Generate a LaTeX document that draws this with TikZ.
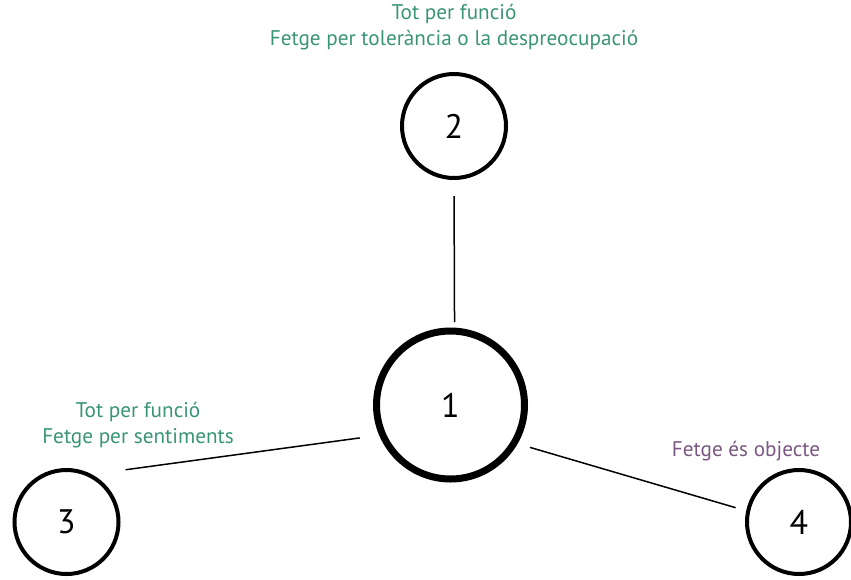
\documentclass[tikz,border=0pt]{standalone}
\usepackage{fontspec}
\setmainfont{PT Sans}
\definecolor{labelgreen}{RGB}{58,148,118}
\definecolor{labelpurple}{RGB}{122,88,130}

\begin{document}
\begin{tikzpicture}[x=0.5pt, y=-0.5pt,
  num/.style={circle, draw, line width=2pt, inner sep=0pt,
              minimum size=52pt, font=\fontsize{17}{19}\selectfont},
  numbig/.style={num, line width=3.5pt, minimum size=74pt},
  lbl/.style={align=center, inner sep=0pt,
              font=\fontsize{10.6}{13}\selectfont, text=labelgreen},
  conn/.style={line width=0.75pt},
]
\useasboundingbox (0,0) rectangle (851,579);

% Circles
\node[numbig] (c1) at (450.5,405) {1};
\node[num] (c2) at (454,126) {2};
\node[num] (c3) at (66.5,522) {3};
\node[num] (c4) at (799,522) {4};

% Labels
\node[lbl] (l2) at (454,27) {Tot per funció\\Fetge per tolerància o la despreocupació};
\node[lbl] (l3) at (138,425) {Tot per funció\\Fetge per sentiments};
\node[lbl, text=labelpurple] (l4) at (746,451) {Fetge és objecte};

% Connectors
\draw[conn, shorten <=8pt, shorten >=2.7pt] (c2.south) -- (c1.87);
\draw[conn, shorten <=9.8pt, shorten >=17pt] (c1.203) -- (c3.62);
\draw[conn, shorten <=6.4pt, shorten >=5.5pt] (c1.330) -- (c4.168);
\end{tikzpicture}
\end{document}
